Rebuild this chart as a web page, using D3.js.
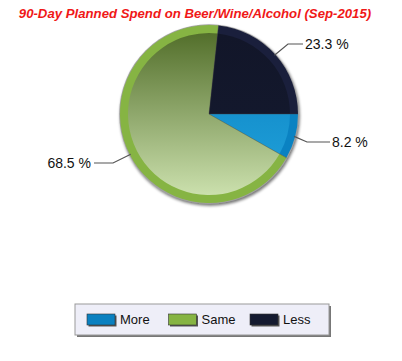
<!DOCTYPE html>
<html><head><meta charset="utf-8">
<script src="https://cdn.jsdelivr.net/npm/d3@7"></script>
<style>html,body{margin:0;padding:0;background:#fff;}svg{display:block;}</style>
</head><body>
<svg id="c" width="402" height="361"></svg>
<script>
const title = "90-Day Planned Spend on Beer/Wine/Alcohol (Sep-2015)";
const categories = ["More", "Same", "Less"];
const values = [8.2, 68.5, 23.3];
const labels = ["8.2 %", "68.5 %", "23.3 %"];

const rimColors = ["#0a82c2", "#86b443", "#1a1f3c"];
const innerTop = ["#0a7fc0", "#536f2b", "#121629"];
const innerBot = ["#22a4dc", "#cbe0ad", "#141a30"];
const swatch = ["#0a80c0", "#86b443", "#141a30"];

const svg = d3.select("#c");
const defs = svg.append("defs");
const cx = 209, cy = 114, R = 89, r2 = 81;

svg.append("text").attr("x", 195).attr("y", 18).attr("text-anchor", "middle")
  .attr("font-family", "Liberation Sans, Arial, sans-serif").attr("font-weight", "bold")
  .attr("font-style", "italic").attr("font-size", 13.2).attr("fill", "#f01818").text(title);

categories.forEach((c, i) => {
  const g = defs.append("linearGradient").attr("id", "g" + i)
    .attr("gradientUnits", "userSpaceOnUse").attr("x1", 0).attr("y1", -r2).attr("x2", 0).attr("y2", r2);
  g.append("stop").attr("offset", 0).attr("stop-color", innerTop[i]);
  g.append("stop").attr("offset", 1).attr("stop-color", innerBot[i]);
});
const f = defs.append("filter").attr("id", "sh").attr("x", "-20%").attr("y", "-20%").attr("width", "140%").attr("height", "140%");
f.append("feGaussianBlur").attr("in", "SourceAlpha").attr("stdDeviation", 1.5);
f.append("feOffset").attr("dx", 1).attr("dy", 2).attr("result", "b");
const fm = f.append("feMerge"); fm.append("feMergeNode").attr("in", "b"); fm.append("feMergeNode").attr("in", "SourceGraphic");
const ct = defs.append("feComponentTransfer");

const pie = d3.pie().sort(null).startAngle(Math.PI / 2).endAngle(Math.PI / 2 + 2 * Math.PI);
const arcs = pie(values);
const outer = d3.arc().innerRadius(0).outerRadius(R);
const inner = d3.arc().innerRadius(0).outerRadius(r2);

const gp = svg.append("g").attr("transform", `translate(${cx},${cy})`);
gp.append("circle").attr("r", R + 0.8).attr("fill", "#555").attr("opacity", 0.55).attr("filter", "url(#sh)");
gp.selectAll("path.o").data(arcs).join("path").attr("class", "o").attr("d", outer)
  .attr("fill", (d, i) => rimColors[i]);
gp.selectAll("path.i").data(arcs).join("path").attr("class", "i").attr("d", inner)
  .attr("fill", (d, i) => `url(#g${i})`);
gp.selectAll("line.s").data(arcs).join("line").attr("class", "s")
  .attr("x1", 0).attr("y1", 0)
  .attr("x2", d => R * Math.sin(d.startAngle)).attr("y2", d => -R * Math.cos(d.startAngle))
  .attr("stroke", "#444").attr("stroke-opacity", 0.5).attr("stroke-width", 0.8);

// labels with leader lines
const lab = [
  {p1: 1.0, elbow: [98, 28], end: [121, 28], anchor: "start", tx: 123},
  {p1: 1.0, elbow: [-96, 49], end: [-115, 49], anchor: "end", tx: -118},
  {p1: 1.0, elbow: [79, -70], end: [94, -70], anchor: "start", tx: 96}
];
arcs.forEach((d, i) => {
  const a = (d.startAngle + d.endAngle) / 2;
  const sx = (R - 1) * Math.sin(a), sy = -(R - 1) * Math.cos(a);
  const L = lab[i];
  gp.append("polyline").attr("points", `${sx},${sy} ${L.elbow[0]},${L.elbow[1]} ${L.end[0]},${L.end[1]}`)
    .attr("fill", "none").attr("stroke", "#555").attr("stroke-width", 1.2);
  gp.append("text").attr("x", L.tx).attr("y", L.end[1] + 5).attr("text-anchor", L.anchor)
    .attr("font-family", "Liberation Sans, Arial, sans-serif").attr("font-size", 14).attr("fill", "#111")
    .text(labels[i]);
});

// legend
const lg = svg.append("g");
lg.append("rect").attr("x", 77).attr("y", 306).attr("width", 254).attr("height", 31).attr("fill", "#777");
lg.append("rect").attr("x", 75).attr("y", 304).attr("width", 254).attr("height", 31)
  .attr("fill", "#eeeef8").attr("stroke", "#999").attr("stroke-width", 1);
const lx = d3.scalePoint().domain(categories).range([87, 250]);
categories.forEach((c, i) => {
  const x = lx(c);
  lg.append("rect").attr("x", x + 1.5).attr("y", 315.5).attr("width", 28).attr("height", 11).attr("fill", "#555");
  lg.append("rect").attr("x", x).attr("y", 314).attr("width", 28).attr("height", 11)
    .attr("fill", swatch[i]).attr("stroke", "#333").attr("stroke-width", 0.6);
  lg.append("text").attr("x", x + 33).attr("y", 324).attr("font-family", "Liberation Sans, Arial, sans-serif")
    .attr("font-size", 13).attr("fill", "#111").text(c);
});
</script>
</body></html>
